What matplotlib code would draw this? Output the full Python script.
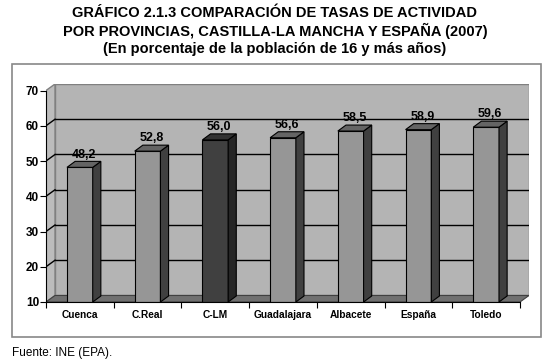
import matplotlib
matplotlib.use("Agg")
import matplotlib.pyplot as plt
from matplotlib.patches import Polygon, Rectangle

plt.rcParams['font.family'] = ['Liberation Sans', 'DejaVu Sans']

categories = ["Cuenca", "C.Real", "C-LM", "Guadalajara", "Albacete", "España", "Toledo"]
values = [48.2, 52.8, 56.0, 56.6, 58.5, 58.9, 59.6]
labels = ["48,2", "52,8", "56,0", "56,6", "58,5", "58,9", "59,6"]
yticks = [10, 20, 30, 40, 50, 60, 70]
highlight = "C-LM"

YMIN, YMAX = 10, 70
DX, DY = 0.133, 1.85      # wall depth in data units
BDX, BDY = 0.12, 1.7      # bar depth
BW = 0.38

fig = plt.figure(figsize=(5.5, 3.64), dpi=100)
fig.patches.append(Rectangle((12 / 550, 1 - 337 / 364), 529 / 550, 273 / 364,
                             transform=fig.transFigure, facecolor='white',
                             edgecolor='#888888', lw=1.2, zorder=-10))

ax = fig.add_axes([46 / 550, 1 - 302 / 364, 483 / 550, 218 / 364])
n = len(categories)
ax.set_xlim(0, n + DX)
ax.set_ylim(YMIN, YMAX + DY)
ax.patch.set_visible(False)

# walls and floor
ax.add_patch(Polygon([(DX, YMIN + DY), (n + DX, YMIN + DY), (n + DX, YMAX + DY), (DX, YMAX + DY)],
                     facecolor='#b4b4b4', edgecolor='#808080', lw=1, zorder=0))
ax.add_patch(Polygon([(0, YMIN), (DX, YMIN + DY), (DX, YMAX + DY), (0, YMAX)],
                     facecolor='#bcbcbc', edgecolor='#808080', lw=1, zorder=0))
ax.add_patch(Polygon([(0, YMIN), (n, YMIN), (n + DX, YMIN + DY), (DX, YMIN + DY)],
                     facecolor='#707070', edgecolor='#404040', lw=0.8, zorder=0))
for v in yticks[1:-1]:
    ax.plot([DX, n + DX], [v + DY, v + DY], color='black', lw=1, zorder=1)
    ax.plot([0, DX], [v, v + DY], color='black', lw=1, zorder=1)

# bars
centers = [i + 0.5 for i in range(n)]
for c, v, cat, lab in zip(centers, values, categories, labels):
    if cat == highlight:
        front, side, top = '#404040', '#262626', '#333333'
    else:
        front, side, top = '#969696', '#404040', '#646464'
    ax.bar(c, v - YMIN, bottom=YMIN, width=BW, color=front, edgecolor='black', lw=0.8, zorder=3)
    r = c + BW / 2
    l = c - BW / 2
    ax.add_patch(Polygon([(r, YMIN), (r + BDX, YMIN + BDY), (r + BDX, v + BDY), (r, v)],
                         facecolor=side, edgecolor='black', lw=0.8, zorder=3))
    ax.add_patch(Polygon([(l, v), (r, v), (r + BDX, v + BDY), (l + BDX, v + BDY)],
                         facecolor=top, edgecolor='black', lw=0.8, zorder=3))
    ax.text(c + BDX / 2, v + BDY + 0.2, lab, ha='center', va='bottom',
            fontsize=9, fontweight='bold', zorder=4)

# axes
for s in ['top', 'right']:
    ax.spines[s].set_visible(False)
ax.spines['left'].set_bounds(YMIN, YMAX)
ax.spines['bottom'].set_bounds(0, n)
ax.spines['left'].set_zorder(5)
ax.spines['bottom'].set_zorder(5)
ax.set_yticks(yticks)
ax.set_yticklabels([str(t) for t in yticks], fontsize=8.5, fontweight='bold')
ax.set_xticks(range(n + 1))
ax.set_xticklabels([])
ax.set_xticks(centers, minor=True)
ax.set_xticklabels(categories, minor=True, fontsize=7.3, fontweight='bold')
ax.tick_params(axis='x', which='minor', length=0, pad=6)
ax.tick_params(axis='x', which='major', length=4, direction='out')
ax.tick_params(axis='y', length=4, direction='out', pad=1)

fig.text(0.5, 1 - 13 / 364, "GRÁFICO 2.1.3 COMPARACIÓN DE TASAS DE ACTIVIDAD",
         ha='center', va='center', fontsize=10.5, fontweight='bold')
fig.text(0.5, 1 - 31 / 364, "POR PROVINCIAS, CASTILLA-LA MANCHA Y ESPAÑA (2007)",
         ha='center', va='center', fontsize=10.5, fontweight='bold')
fig.text(0.5, 1 - 49 / 364, "(En porcentaje de la población de 16 y más años)",
         ha='center', va='center', fontsize=10.5, fontweight='bold')
fig.text(12 / 550, 1 - 353 / 364, "Fuente: INE (EPA).", ha='left', va='center', fontsize=8.5)

plt.savefig('out.png', dpi=100)
